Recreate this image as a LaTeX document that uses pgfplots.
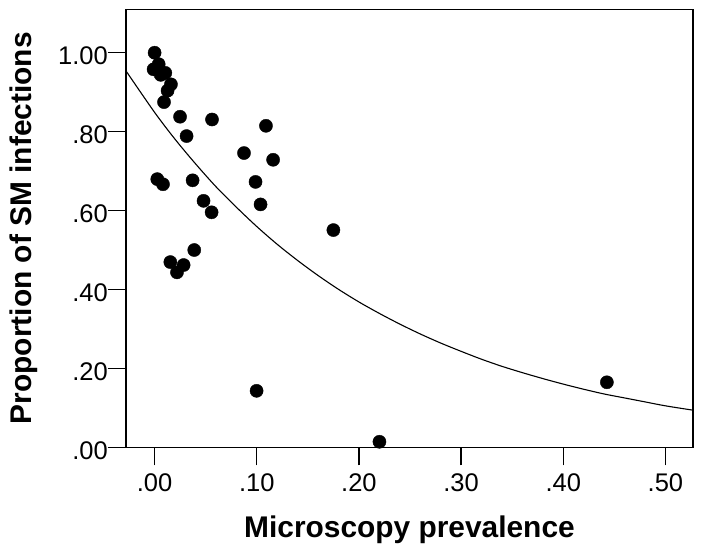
\documentclass[border=0pt]{standalone}
\usepackage{pgfplots}
\pgfplotsset{compat=1.18}
\usepackage{fontspec}
\setmainfont{Liberation Sans}
\begin{document}
\begin{tikzpicture}
\useasboundingbox (-126bp,-106.7bp) rectangle (578bp,447.3bp);
\begin{axis}[
  scale only axis,
  width=567bp, height=438bp,
  xmin=-0.028, xmax=0.527,
  ymin=0, ymax=1.109,
  axis line style={line width=1.2pt},
  tick style={line width=1.2pt, black},
  tick align=outside,
  major tick length=18bp,
  xtick={0,0.1,0.2,0.3,0.4,0.5},
  xticklabels={.00,.10,.20,.30,.40,.50},
  ytick={0,0.2,0.4,0.6,0.8,1.0},
  yticklabels={.00,.20,.40,.60,.80,1.00},
  xtick pos=bottom, ytick pos=left,
  ticklabel style={font=\fontsize{25.6}{30}\selectfont},
  yticklabel style={inner sep=0pt, anchor=east, yshift=-3bp},
  xticklabel style={inner sep=0pt, anchor=north, yshift=-8bp},
  xlabel={\bfseries Microscopy prevalence},
  ylabel={\bfseries Proportion of SM infections},
  label style={font=\fontsize{30}{36}\selectfont},
  xlabel style={at={(rel axis cs:0.5,0)}, anchor=base, yshift=-90.4bp},
  ylabel style={at={(rel axis cs:0,0.5)}, anchor=base, yshift=94.3bp},
  clip=true,
]
\addplot[only marks, mark=*, mark size=6.6pt, black] coordinates {
(0.000,0.999) (0.004,0.970) (-0.001,0.957) (0.0105,0.948) (0.006,0.943)
(0.016,0.919) (0.0127,0.903) (0.0092,0.874) (0.0249,0.837) (0.0562,0.830)
(0.109,0.814) (0.0313,0.788) (0.0875,0.745) (0.116,0.728) (0.0026,0.679)
(0.0082,0.666) (0.0372,0.676) (0.0988,0.672) (0.0479,0.624) (0.1037,0.615)
(0.0558,0.595) (0.175,0.550) (0.0388,0.4995) (0.0154,0.469) (0.0284,0.4615)
(0.0219,0.443) (0.0998,0.143) (0.2201,0.014) (0.4427,0.1646)
};
\addplot[smooth, line width=1.1pt, black] coordinates {
(-0.028,0.953) (0.0,0.848) (0.02,0.780) (0.04,0.718) (0.06,0.660) (0.08,0.608)
(0.10,0.559) (0.12,0.514) (0.14,0.473) (0.16,0.435) (0.18,0.400) (0.20,0.368)
(0.22,0.339) (0.24,0.312) (0.26,0.287) (0.28,0.264) (0.30,0.243) (0.32,0.223)
(0.34,0.205) (0.36,0.189) (0.38,0.174) (0.40,0.160) (0.42,0.147) (0.44,0.135)
(0.46,0.125) (0.48,0.115) (0.50,0.105) (0.527,0.094)
};
\end{axis}
\end{tikzpicture}
\end{document}
